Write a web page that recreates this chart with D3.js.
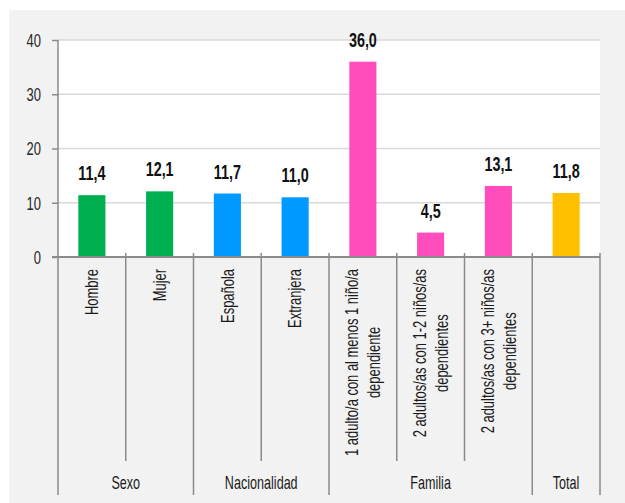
<!DOCTYPE html>
<html>
<head>
<meta charset="utf-8">
<script src="https://cdn.jsdelivr.net/npm/d3@7"></script>
<style>
  html, body { margin: 0; padding: 0; background: #fff; }
  svg { display: block; }
</style>
</head>
<body>
<svg id="chart" width="625" height="503"></svg>
<script>
// Category labels (each entry is the list of lines of the label; "Total" has none)
const categories = [
  ["Hombre"],
  ["Mujer"],
  ["Española"],
  ["Extranjera"],
  ["1 adulto/a con al menos 1 niño/a", "dependiente"],
  ["2 adultos/as con 1-2 niños/as", "dependientes"],
  ["2 adultos/as con 3+ niños/as", "dependientes"],
  []
];
const groups = ["Sexo", "Sexo", "Nacionalidad", "Nacionalidad", "Familia", "Familia", "Familia", "Total"];
const values = [11.4, 12.1, 11.7, 11.0, 36.0, 4.5, 13.1, 11.8];
const yTicks = [0, 10, 20, 30, 40];
const groupColors = { "Sexo": "#00b050", "Nacionalidad": "#0099ff", "Familia": "#ff4dbb", "Total": "#ffc000" };

const FONT = "'Liberation Sans', Arial, sans-serif";
const AXIS = "#8a8a8a";
const TEXT = "#1a1a1a";

const svg = d3.select("#chart");

const plotLeft = 58, plotRight = 600, plotTop = 40, zeroY = 257;
const innerSepBottom = 461, groupSepBottom = 495;

const x = d3.scaleBand().domain(d3.range(categories.length)).range([plotLeft, plotRight]);
const y = d3.scaleLinear().domain([0, 40]).range([zeroY, plotTop]);

// Panel backgrounds
svg.append("rect").attr("x", 9).attr("y", 10).attr("width", 616).attr("height", 493).attr("fill", "#f2f2f2");
svg.append("rect").attr("x", plotLeft).attr("y", y(40)).attr("width", plotRight - plotLeft).attr("height", y(0) - y(40)).attr("fill", "#fff");

// Horizontal gridlines
svg.append("g").selectAll("line").data(yTicks.filter(d => d > 0)).join("line")
  .attr("x1", plotLeft).attr("x2", plotRight)
  .attr("y1", d => y(d)).attr("y2", d => y(d))
  .attr("stroke", "#d9d9d9").attr("stroke-width", 1.5);

// Helper for condensed text
function label(parent, px, py, str, o) {
  const t = parent.append("text")
    .attr("transform", `translate(${px},${py}) rotate(${o.rotate || 0}) scale(${o.sx},1)`)
    .attr("text-anchor", o.anchor || "middle")
    .attr("font-family", FONT)
    .attr("font-size", o.size)
    .attr("font-weight", o.weight || "normal")
    .attr("fill", o.fill || TEXT)
    .text(str);
  if (o.dy) t.attr("dy", o.dy);
  return t;
}

// Bars
const barW = x.bandwidth() * 0.4;
svg.append("g").selectAll("rect").data(values).join("rect")
  .attr("x", (d, i) => x(i) + (x.bandwidth() - barW) / 2)
  .attr("y", d => y(d))
  .attr("width", barW)
  .attr("height", d => y(0) - y(d))
  .attr("fill", (d, i) => groupColors[groups[i]]);

// Value labels
const fmt = d => d3.format(".1f")(d).replace(".", ",");
const valG = svg.append("g");
values.forEach((v, i) => {
  label(valG, x(i) + x.bandwidth() / 2, y(v) - 15, fmt(v), { size: 20, sx: 0.72, weight: "bold", fill: "#111" });
});

// Y axis
const yAxis = svg.append("g").attr("transform", `translate(${plotLeft},0)`)
  .call(d3.axisLeft(y).tickValues(yTicks).tickSize(6).tickFormat(d => d));
yAxis.select(".domain").remove();
yAxis.selectAll(".tick line").attr("stroke", AXIS).attr("stroke-width", 1.5);
yAxis.selectAll(".tick text")
  .attr("x", null).attr("dy", "0.36em")
  .attr("transform", "translate(-17,0) scale(0.74,1)")
  .attr("text-anchor", "end")
  .attr("font-family", FONT).attr("font-size", 17.5).attr("fill", "#262626");

const axisG = svg.append("g").attr("stroke", AXIS).attr("stroke-width", 1.5);
// Vertical axis line, continuing through the category area
axisG.append("line").attr("x1", plotLeft).attr("x2", plotLeft).attr("y1", y(40)).attr("y2", groupSepBottom);

// Separators between categories
const groupEdges = d3.range(1, categories.length).filter(i => groups[i] !== groups[i - 1]);
d3.range(1, categories.length + 1).forEach(i => {
  const xx = i === categories.length ? plotRight : x(i);
  const isGroup = i === categories.length || groupEdges.includes(i);
  axisG.append("line").attr("x1", xx).attr("x2", xx)
    .attr("y1", zeroY - 4).attr("y2", isGroup ? groupSepBottom : innerSepBottom);
});

// Zero line
axisG.append("line").attr("x1", plotLeft - 6).attr("x2", plotRight).attr("y1", zeroY).attr("y2", zeroY).attr("stroke-width", 2);

// Category labels (rotated, top aligned, multi-line centered)
const catG = svg.append("g");
const catSize = 17.5, catSx = 0.74, lineGap = 22, catTop = 269;
categories.forEach((lines, i) => {
  const cx = x(i) + x.bandwidth() / 2;
  const texts = lines.map((ln, k) => {
    const off = (k - (lines.length - 1) / 2) * lineGap;
    return label(catG, cx + off, 0, ln, { size: catSize, sx: catSx, rotate: -90, dy: "0.35em" });
  });
  if (!texts.length) return;
  const maxLen = d3.max(texts, t => t.node().getComputedTextLength()) * catSx;
  texts.forEach((t, k) => {
    const off = (k - (lines.length - 1) / 2) * lineGap;
    t.attr("transform", `translate(${cx + off},${catTop + maxLen / 2}) rotate(-90) scale(${catSx},1)`);
  });
});

// Group labels
const groupNames = Array.from(new Set(groups));
const grpG = svg.append("g");
groupNames.forEach(g => {
  const idx = groups.map((d, i) => d === g ? i : -1).filter(i => i >= 0);
  const x0 = x(idx[0]), x1 = x(idx[idx.length - 1]) + x.bandwidth();
  label(grpG, (x0 + x1) / 2, 483, g, { size: 18, sx: 0.7, dy: "0.35em" });
});
</script>
</body>
</html>
